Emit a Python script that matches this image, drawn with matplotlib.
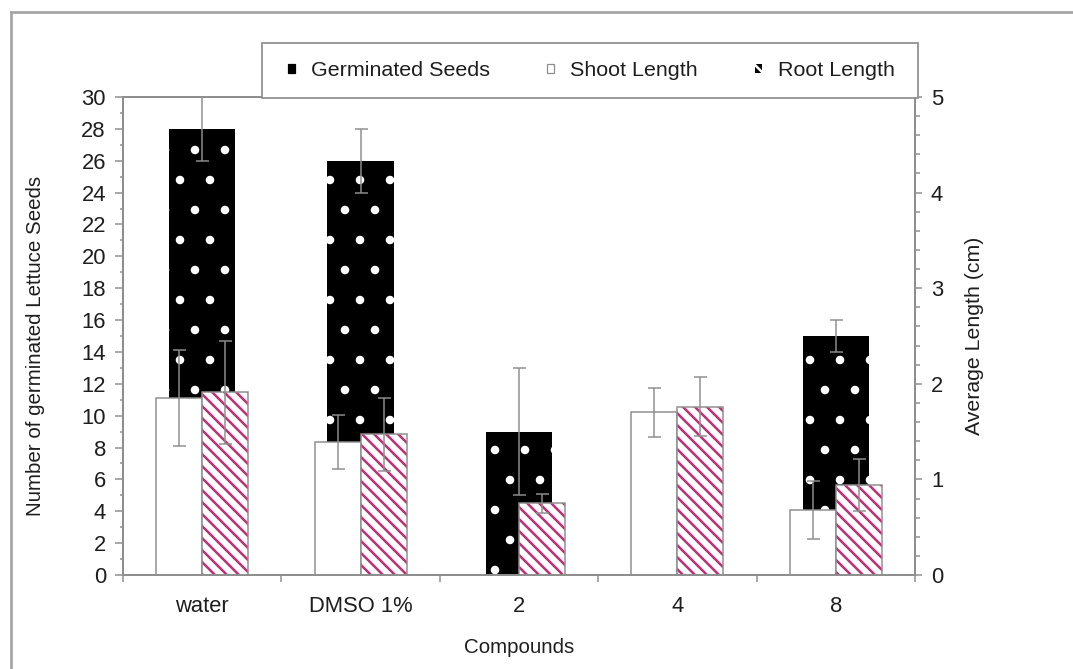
import matplotlib
matplotlib.use('Agg')
import matplotlib.pyplot as plt
import numpy as np
from matplotlib.patches import Patch, Rectangle
from matplotlib.lines import Line2D
from matplotlib.ticker import MultipleLocator, FixedLocator, NullFormatter, FixedFormatter

categories = ['water', 'DMSO 1%', '2', '4', '8']
germinated = [28, 26, 9, 0, 15]
germinated_err = [2, 2, 4, 0, 1]
shoot_length = [1.85, 1.39, 0.0, 1.70, 0.68]
shoot_err = [0.50, 0.28, 0.0, 0.26, 0.30]
root_length = [1.91, 1.47, 0.75, 1.76, 0.94]
root_err = [0.54, 0.38, 0.10, 0.31, 0.27]

DPI = 180
W, H = 1073, 669
plt.rcParams['font.family'] = ['Liberation Sans', 'DejaVu Sans']
plt.rcParams['hatch.linewidth'] = 1.0

gray = '#8e8e8e'
txt = '#1e1e1e'
magenta = '#c03078'
fs = 8.8

fig = plt.figure(figsize=(W / DPI, H / DPI), dpi=DPI)
fig.patch.set_facecolor('white')
ax = fig.add_axes([123 / W, 1 - 575 / H, 792 / W, 478 / H])
ax2 = ax.twinx()

x = np.arange(len(categories))

# Germinated seeds (left axis) - black with white dots
ax.bar(x, germinated, width=0.42, color='black', edgecolor='white',
       linewidth=0, hatch='.', zorder=2)
g = np.array(germinated, float)
ge = np.array(germinated_err, float)
m = ge > 0
ax.errorbar(x[m], g[m], yerr=ge[m], fmt='none', ecolor=gray,
            elinewidth=0.6, capsize=2.6, capthick=0.6, zorder=3)

# Shoot and root (right axis)
ax2.bar(x - 0.145, shoot_length, width=0.29, facecolor='white',
        edgecolor=gray, linewidth=0.6, zorder=2)
ax2.bar(x + 0.145, root_length, width=0.29, facecolor='white',
        edgecolor=magenta, linewidth=0, hatch='\\' * 5, zorder=2)
ax2.bar(x + 0.145, root_length, width=0.29, fill=False,
        edgecolor=gray, linewidth=0.6, zorder=2.1)
s = np.array(shoot_length, float)
se = np.array(shoot_err, float)
m = se > 0
ax2.errorbar(x[m] - 0.145, s[m], yerr=se[m], fmt='none', ecolor=gray,
             elinewidth=0.6, capsize=2.6, capthick=0.6, zorder=3)
r = np.array(root_length, float)
re_ = np.array(root_err, float)
m = re_ > 0
ax2.errorbar(x[m] + 0.145, r[m], yerr=re_[m], fmt='none', ecolor=gray,
             elinewidth=0.6, capsize=2.6, capthick=0.6, zorder=3)

# Axes limits and ticks
ax.set_xlim(-0.5, len(categories) - 0.5)
ax.set_ylim(0, 30)
ax2.set_ylim(0, 5)

ax.yaxis.set_major_locator(MultipleLocator(2))
ax.yaxis.set_minor_locator(MultipleLocator(1))
ax2.yaxis.set_major_locator(MultipleLocator(1))
ax2.yaxis.set_minor_locator(MultipleLocator(0.2))

ax.xaxis.set_major_locator(FixedLocator(np.arange(-0.5, len(categories), 1.0)))
ax.xaxis.set_major_formatter(NullFormatter())
ax.xaxis.set_minor_locator(FixedLocator(x))
ax.xaxis.set_minor_formatter(FixedFormatter(categories))

ax.tick_params(axis='x', which='major', direction='out', length=2.8,
               width=0.6, color=gray)
ax.tick_params(axis='x', which='minor', length=0, pad=8.5,
               labelsize=fs, labelcolor=txt)
ax.tick_params(axis='y', which='major', direction='out', length=3.2,
               width=0.6, color=gray, labelsize=fs, labelcolor=txt, pad=3.6)
ax.tick_params(axis='y', which='minor', direction='out', length=1.4,
               width=0.6, color=gray)
ax2.tick_params(axis='y', which='major', direction='out', length=2.8,
                width=0.6, color=gray, labelsize=fs, labelcolor=txt, pad=3.6)
ax2.tick_params(axis='y', which='minor', direction='out', length=2.0,
                width=0.6, color=gray)

for a in (ax, ax2):
    for sp in a.spines.values():
        sp.set_color(gray)
        sp.set_linewidth(0.7)

ax.set_ylabel('Number of germinated Lettuce Seeds', fontsize=8.2, color=txt)
ax.yaxis.set_label_coords(-0.098, 0.48)
ax2.set_ylabel('Average Length (cm)', fontsize=8.5, color=txt)
ax2.yaxis.set_label_coords(1.063, 0.50)
ax.set_xlabel('Compounds', fontsize=8.2, color=txt)
ax.xaxis.set_label_coords(0.5, -0.132)

# Legend frame box
fig.add_artist(Rectangle((262 / W, 1 - 98 / H), 656 / W, 55 / H,
                         transform=fig.transFigure, facecolor='white',
                         edgecolor=gray, linewidth=0.7, zorder=4))

# Legend
handles = [
    Patch(facecolor='black', edgecolor='black', linewidth=0.5),
    Patch(facecolor='white', edgecolor=gray, linewidth=0.5),
    Patch(facecolor='black', edgecolor='white', linewidth=0, hatch='\\\\'),
]
labels = ['Germinated Seeds', 'Shoot Length', 'Root Length']
leg = fig.legend(handles, labels, loc='center', ncol=3, mode='expand',
                 bbox_to_anchor=(288 / W, 1 - 98 / H, 607 / W, 55 / H),
                 bbox_transform=fig.transFigure, borderaxespad=0,
                 fontsize=8.6, frameon=False,
                 handlelength=0.33, handleheight=0.28,
                 handletextpad=0.75, borderpad=0.0, columnspacing=2.0)
leg.set_zorder(5)
for t in leg.get_texts():
    t.set_color(txt)

# Outer frame (left and top edges)
fig.add_artist(Line2D([11 / W, 11 / W], [0, 1 - 12 / H], transform=fig.transFigure,
                      color='#a5a5a5', linewidth=1.1))
fig.add_artist(Line2D([11 / W, 1], [1 - 12 / H, 1 - 12 / H], transform=fig.transFigure,
                      color='#a5a5a5', linewidth=1.1))

fig.savefig('out.png', dpi=DPI, facecolor='white')
